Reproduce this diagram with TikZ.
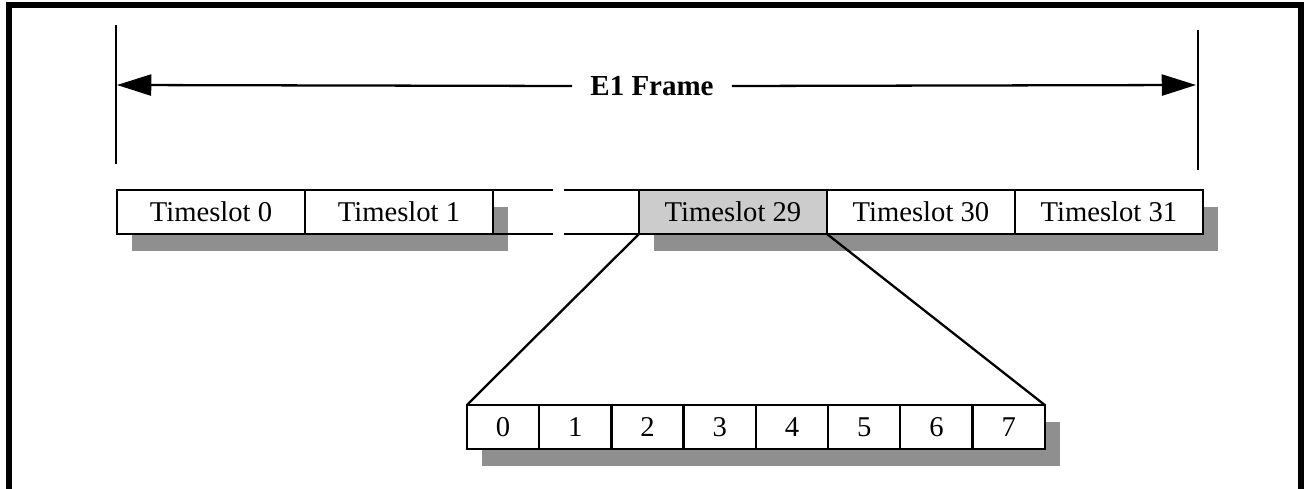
\documentclass[tikz,border=0pt]{standalone}
\usepackage{fontspec}
\setmainfont{Liberation Serif}
\usetikzlibrary{positioning,arrows.meta,backgrounds}

\begin{document}
\begin{tikzpicture}[
    x = 0.02cm, y = -0.02cm,
    slot/.style = {
        draw,
        line width = 1.35pt,
        minimum width = 3.76cm,
        minimum height = 0.88cm,
        inner sep = 0pt,
        outer sep = 0pt,
        fill = white,
        font = \fontsize{16.3}{18}\selectfont
    },
    chosen/.style = {slot, fill = black!20},
    bit/.style = {slot, minimum width = 1.445cm},
    shadow/.style = {fill = black!44},
    edge/.style = {line width = 1.3pt},
    arrow/.style = {edge, -{Triangle[length = 19.5pt, width = 12pt]}},
    title/.style = {font = \fontsize{16.5}{18}\selectfont\bfseries, inner xsep = 0.36cm}
]

\useasboundingbox (0,0) rectangle (1304,489);

% Outer frame (open at the bottom)
\draw[line width = 3.4pt] (9,489) -- (9,5) -- (1301,5) -- (1301,489);

% Frame extent
\draw[edge] (116,25) -- (116,164);
\draw[edge] (1198,30) -- (1198,170);
\coordinate (startF) at (117,85);
\coordinate (endF) at (1196,85);
\node[title] (frame) at (652,86) {E1 Frame};
\draw[arrow] (frame.west) -- (startF);
\draw[arrow] (frame.east) -- (endF);

% Timeslots
\node[slot] (ts0) at (211,212) {Timeslot 0};
\node[slot, right = 0pt of ts0] (ts1) {Timeslot 1};
\node[chosen, anchor = west] (ts29) at (639,212) {Timeslot 29};
\node[slot, right = 0pt of ts29] (ts30) {Timeslot 30};
\node[slot, right = 0pt of ts30] (ts31) {Timeslot 31};

% Broken part between slot 1 and slot 29
\coordinate (breakL) at (553,212);
\coordinate (breakR) at (564,212);
\draw[edge] (ts1.north east) -- (breakL |- ts1.north);
\draw[edge] (breakR |- ts29.north) -- (ts29.north west);
\draw[edge] (ts1.south east) -- (breakL |- ts1.south);
\draw[edge] (breakR |- ts29.south) -- (ts29.south west);

% Bits of timeslot 29
\node[bit] (b0) at (503,427) {0};
\node[bit, right = 0pt of b0] (b1) {1};
\node[bit, right = 0pt of b1] (b2) {2};
\node[bit, right = 0pt of b2] (b3) {3};
\node[bit, right = 0pt of b3] (b4) {4};
\node[bit, right = 0pt of b4] (b5) {5};
\node[bit, right = 0pt of b5] (b6) {6};
\node[bit, right = 0pt of b6] (b7) {7};

% Zoom lines
\draw[edge] (ts29.south west) -- (b0.north west);
\draw[edge] (ts29.south east) -- (b7.north east);

% Drop shadows
\begin{scope}[on background layer]
\fill[shadow] ([shift = {(15,17)}]ts0.north west) rectangle ([shift = {(15,17)}]ts1.south east);
\fill[shadow] ([shift = {(15,17)}]ts29.north west) rectangle ([shift = {(15,17)}]ts31.south east);
\fill[shadow] ([shift = {(15,17)}]b0.north west) rectangle ([shift = {(15,17)}]b7.south east);
\end{scope}

\end{tikzpicture}
\end{document}
